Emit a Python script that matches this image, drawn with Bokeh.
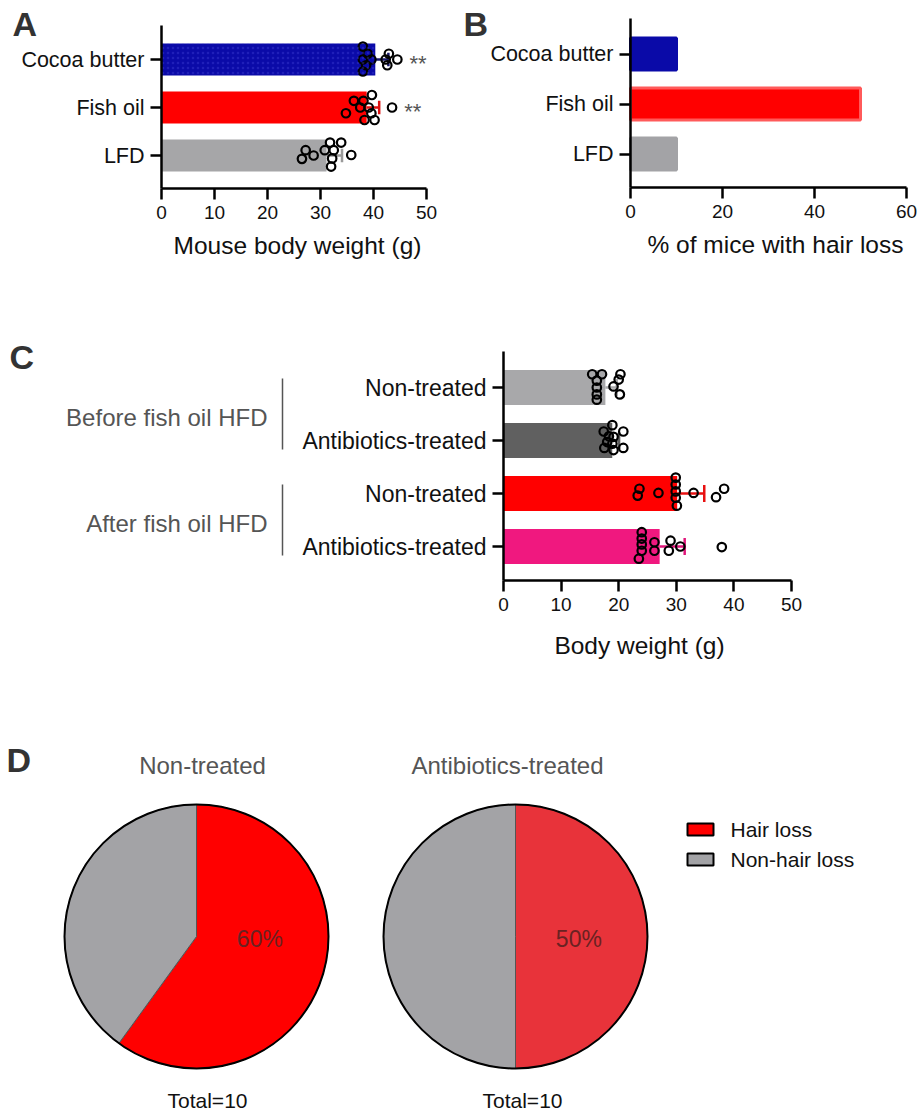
import math
import numpy as np
from bokeh.plotting import figure
from bokeh.layouts import column, row
from bokeh.models import Range1d, FixedTicker
from bokeh.core.properties import value
from bokeh.embed import file_html
from bokeh.resources import INLINE

FONT = "Liberation Sans"

# ---------------- data ----------------
# Panel A : mouse body weight (g)
a_groups = ["Cocoa butter", "Fish oil", "LFD"]
a_colors = ["#0a0aa8", "#ff0000", "#a6a6a8"]
a_err_colors = ["#17176a", "#dd1010", "#9a9a9a"]
a_sig = ["**", "**", ""]
a_cocoa = [38.0, 38.9, 38.0, 39.6, 38.6, 38.0, 42.9, 42.3, 42.6, 44.5]
a_cocoa_jit = [0.27, 0.12, 0.0, 0.0, -0.12, -0.25, 0.12, 0.0, -0.12, 0.0]
a_fish = [39.7, 36.3, 38.1, 37.5, 39.1, 34.8, 39.6, 38.3, 40.2, 43.5]
a_fish_jit = [0.26, 0.14, 0.14, 0.0, 0.0, -0.12, -0.12, -0.26, -0.26, 0.0]
a_lfd = [31.8, 33.9, 27.2, 30.8, 32.5, 28.7, 26.5, 35.8, 32.2, 32.0]
a_lfd_jit = [0.27, 0.27, 0.11, 0.11, 0.11, 0.0, -0.07, 0.01, -0.06, -0.23]
a_ticks = [0, 10, 20, 30, 40, 50]
a_xlabel = "Mouse body weight (g)"

# Panel B : % of mice with hair loss
b_groups = ["Cocoa butter", "Fish oil", "LFD"]
b_values = [10, 50, 10]
b_colors = ["#0a0aa8", "#ff0000", "#a3a3a6"]
b_line_colors = ["#0a0aa8", "#ff5a5a", "#a3a3a6"]
b_ticks = [0, 20, 40, 60]
b_xlabel = "% of mice with hair loss"

# Panel C : body weight (g)
c_group_names = ["Before fish oil HFD", "After fish oil HFD"]
c_labels = ["Non-treated", "Antibiotics-treated", "Non-treated", "Antibiotics-treated"]
c_colors = ["#a8a8aa", "#606060", "#ff0000", "#f0187f"]
c_err_colors = ["#a8a8aa", "#606060", "#e81010", "#e0157a"]
c_before_non = [15.4, 17.1, 16.2, 16.2, 16.2, 16.2, 20.3, 20.0, 19.1, 20.2]
c_before_non_jit = [0.25, 0.25, 0.13, 0.0, -0.13, -0.23, 0.25, 0.15, 0.02, -0.13]
c_before_abx = [18.9, 17.4, 20.8, 18.3, 19.1, 18.0, 17.5, 19.1, 20.8, 18.9]
c_before_abx_jit = [0.29, 0.17, 0.17, 0.08, 0.07, -0.03, -0.14, -0.18, -0.14, -0.06]
c_after_non = [23.6, 23.3, 26.9, 29.9, 29.9, 29.9, 29.9, 30.1, 33.0, 36.9, 38.3]
c_after_non_jit = [0.09, -0.04, 0.01, 0.30, 0.17, 0.04, -0.08, -0.23, 0.01, -0.07, 0.09]
c_after_abx = [24.0, 24.0, 24.0, 24.0, 23.5, 26.2, 26.2, 29.0, 28.7, 30.7, 37.9]
c_after_abx_jit = [0.27, 0.15, 0.04, -0.08, -0.23, 0.08, -0.08, 0.11, -0.08, 0.0, -0.01]
c_ticks = [0, 10, 20, 30, 40, 50]
c_xlabel = "Body weight (g)"

# Panel D : hair loss pies
d_titles = ["Non-treated", "Antibiotics-treated"]
d_hair_loss = [6, 5]
d_total = [10, 10]
d_hair_colors = ["#ff0000", "#e8333a"]
d_gray = "#a3a3a6"
d_legend_labels = ["Hair loss", "Non-hair loss"]
d_legend_colors = ["#ff0000", "#a3a3a6"]


# ---------------- helpers ----------------
class Frame:
    """Pixel geometry of a panel (pixels measured from the figure's top-left);
    the plotting frame covers the whole figure, axes sit at fixed locations."""
    def __init__(self, width, height, x_zero_px, x_max_px, x_max,
                 cat1_px, cat_step, axis_top_px, axis_bottom_px):
        self.width, self.height = width, height
        self.ppx = (x_max_px - x_zero_px) / x_max
        self.x_zero_px = x_zero_px
        self.cat1_px = cat1_px
        self.cat_step = cat_step
        self.x_max = x_max
        self.axis_top = self.y(axis_top_px)
        self.axis_bottom = self.y(axis_bottom_px)

    def x(self, px):
        return (px - self.x_zero_px) / self.ppx

    def y(self, py):
        return 1 + (self.cat1_px - py) / self.cat_step


def make_fig(fr):
    p = figure(width=fr.width, height=fr.height, title=None, output_backend="svg",
               toolbar_location=None,
               x_range=Range1d(fr.x(0), fr.x(fr.width)),
               y_range=Range1d(fr.y(fr.height), fr.y(0)),
               min_border_left=0, min_border_top=0, min_border_right=0, min_border_bottom=0)
    p.grid.visible = False
    p.outline_line_color = None
    p.background_fill_color = None
    p.border_fill_color = None
    p.yaxis.fixed_location = 0
    p.xaxis.fixed_location = fr.axis_bottom
    p.xaxis.bounds = (0, fr.x_max)
    p.yaxis.bounds = (fr.axis_bottom, fr.axis_top)
    return p


def style_axes(p, cat_size="21.5px", tick_size="19px"):
    for ax in p.axis:
        ax.axis_line_width = 2.5
        ax.axis_line_color = "black"
        ax.major_tick_line_width = 2.5
        ax.major_tick_line_color = "black"
        ax.major_tick_out = 11
        ax.major_tick_in = 0
        ax.minor_tick_line_color = None
        ax.major_label_text_font = FONT
        ax.major_label_text_color = "#111111"
        ax.major_label_standoff = 6
    p.xaxis.major_label_text_font_size = tick_size
    p.yaxis.major_label_text_font_size = cat_size


def axis_title(p, fr, text, px, py):
    p.text(x=[fr.x(px)], y=[fr.y(py)], text=[text], text_font=value(FONT),
           text_font_size="24.5px", text_color="#111111", text_align="center",
           text_baseline="middle")


def swarm_bars(p, series, jitters, colors, err_colors, bar_h, cap, size):
    n = len(series)
    for i, (vals, jit, col, ecol) in enumerate(zip(series, jitters, colors, err_colors)):
        y = n - i
        m = float(np.mean(vals))
        sd = float(np.std(vals, ddof=1))
        p.hbar(y=[y], left=[0], right=[m], height=bar_h, fill_color=col, line_color=None)
        p.segment(x0=[m], y0=[y], x1=[m + sd], y1=[y], line_color=ecol, line_width=2.5)
        p.segment(x0=[m + sd], y0=[y - cap], x1=[m + sd], y1=[y + cap], line_color=ecol, line_width=2.5)
        p.scatter(x=vals, y=[y + j for j in jit], marker="circle", size=size,
                  fill_color=None, line_color="black", line_width=2.2)


def letter(p, fr, text, px, py):
    p.text(x=[fr.x(px)], y=[fr.y(py)], text=[text], text_font=value(FONT),
           text_font_size="34px", text_font_style="bold", text_color="#333333",
           text_align="left", text_baseline="middle")


# ---------------- Panel A ----------------
frA = Frame(460, 288, x_zero_px=161, x_max_px=426, x_max=50,
            cat1_px=155, cat_step=48, axis_top_px=25, axis_bottom_px=188)
pA = make_fig(frA)
a_series = [a_cocoa, a_fish, a_lfd]
a_jits = [a_cocoa_jit, a_fish_jit, a_lfd_jit]
swarm_bars(pA, a_series, a_jits, a_colors, a_err_colors, 32 / 48, 0.14, 8.5)
pA.hbar(y=[3], left=[0], right=[float(np.mean(a_cocoa))], height=32 / 48, fill_alpha=0,
        line_color=None, hatch_pattern="dot", hatch_color="#5050e0", hatch_alpha=0.3,
        hatch_scale=5, hatch_weight=1)
for i, s in enumerate(a_sig):
    if s:
        pA.text(x=[max(a_series[i]) + 2.3], y=[3 - i], text=[s], text_font=value(FONT),
                text_font_size="22px", text_color="#555555", text_baseline="middle",
                text_align="left", y_offset=4)
pA.xaxis.ticker = FixedTicker(ticks=a_ticks)
pA.yaxis.ticker = FixedTicker(ticks=[3, 2, 1])
pA.yaxis.major_label_overrides = {3 - i: g for i, g in enumerate(a_groups)}
style_axes(pA)
axis_title(pA, frA, a_xlabel, 297, 245)
letter(pA, frA, "A", 12, 23)

# ---------------- Panel B ----------------
frB = Frame(460, 288, x_zero_px=170, x_max_px=446, x_max=60,
            cat1_px=153.5, cat_step=50, axis_top_px=18, axis_bottom_px=187)
pB = make_fig(frB)
nb = len(b_groups)
pB.hbar(y=[nb - i for i in range(nb)], left=0, right=b_values, height=0.64,
        fill_color=b_colors, line_color=b_line_colors, line_width=3)
pB.xaxis.ticker = FixedTicker(ticks=b_ticks)
pB.yaxis.ticker = FixedTicker(ticks=[3, 2, 1])
pB.yaxis.major_label_overrides = {nb - i: g for i, g in enumerate(b_groups)}
style_axes(pB)
axis_title(pB, frB, b_xlabel, 315, 244)
letter(pB, frB, "B", 3, 23)

# ---------------- Panel C ----------------
frC = Frame(920, 420, x_zero_px=503, x_max_px=791, x_max=50,
            cat1_px=258, cat_step=53, axis_top_px=63, axis_bottom_px=292)
pC = make_fig(frC)
c_series = [c_before_non, c_before_abx, c_after_non, c_after_abx]
c_jits = [c_before_non_jit, c_before_abx_jit, c_after_non_jit, c_after_abx_jit]
swarm_bars(pC, c_series, c_jits, c_colors, c_err_colors, 35 / 53, 0.16, 8.5)
pC.xaxis.ticker = FixedTicker(ticks=c_ticks)
nc = len(c_labels)
pC.yaxis.ticker = FixedTicker(ticks=[nc - i for i in range(nc)])
pC.yaxis.major_label_overrides = {nc - i: g for i, g in enumerate(c_labels)}
style_axes(pC, cat_size="23px")
axis_title(pC, frC, c_xlabel, 639, 645 - 288)
ng = len(c_group_names)
per = nc // ng
g_centers = [nc - k * per - (per - 1) / 2 for k in range(ng)]
pC.text(x=[frC.x(267)] * ng, y=g_centers, text=c_group_names, text_font=value(FONT),
        text_font_size="24px", text_color="#555555", text_align="right", text_baseline="middle",
        y_offset=3)
pC.segment(x0=[frC.x(282)] * ng, y0=[g - 0.67 for g in g_centers], x1=[frC.x(282)] * ng,
           y1=[g + 0.67 for g in g_centers], line_color="#555555", line_width=1.5)
letter(pC, frC, "C", 9, 356 - 288)

# ---------------- Panel D ----------------
DH = 407
pD = figure(width=920, height=DH, title=None, output_backend="svg", toolbar_location=None,
            x_range=Range1d(0, 920), y_range=Range1d(0, DH),
            x_axis_location=None, y_axis_location=None,
            min_border_left=0, min_border_right=0, min_border_top=0, min_border_bottom=0)
pD.grid.visible = False
pD.outline_line_color = None
top = 708


def dy(py):
    return DH - (py - top)


centers_x = [196, 515]
cy = dy(936)
R = 132
title_x = [202, 507]
total_x = [207, 522]
for k in range(len(d_titles)):
    cx = centers_x[k]
    f = d_hair_loss[k] / d_total[k]
    a0 = math.pi / 2
    a1 = a0 - 2 * math.pi * f
    pD.wedge(x=[cx], y=[cy], radius=R, start_angle=a0, end_angle=a1, direction="clock",
             fill_color=d_hair_colors[k], line_color="#555555", line_width=1)
    pD.wedge(x=[cx], y=[cy], radius=R, start_angle=a1, end_angle=a0 - 2 * math.pi, direction="clock",
             fill_color=d_gray, line_color="#555555", line_width=1)
    pD.circle(x=[cx], y=[cy], radius=R, fill_color=None, line_color="black", line_width=2)
    pD.text(x=[cx + 0.48 * R], y=[cy - 2], text=[f"{round(100 * f)}%"], text_font=value(FONT),
            text_font_size="23px", text_color="#6a2222", text_align="center", text_baseline="middle")
    pD.text(x=[title_x[k]], y=[dy(765)], text=[d_titles[k]], text_font=value(FONT),
            text_font_size="24px", text_color="#555555", text_align="center", text_baseline="middle")
    pD.text(x=[total_x[k]], y=[dy(1100)], text=[f"Total={d_total[k]}"], text_font=value(FONT),
            text_font_size="21px", text_color="#111111", text_align="center", text_baseline="middle")

leg_y = [dy(829), dy(859)]
pD.rect(x=[700] * 2, y=leg_y, width=26, height=12, fill_color=d_legend_colors,
        line_color="black", line_width=2)
pD.text(x=[730] * 2, y=leg_y, text=d_legend_labels, text_font=value(FONT),
        text_font_size="21px", text_color="#111111", text_align="left", text_baseline="middle")
pD.text(x=[6], y=[dy(759)], text=["D"], text_font=value(FONT), text_font_size="34px",
        text_font_style="bold", text_color="#333333", text_baseline="middle")

layout = column(row(pA, pB), pC, pD)
open("out.html", "w").write(file_html(layout, INLINE))
